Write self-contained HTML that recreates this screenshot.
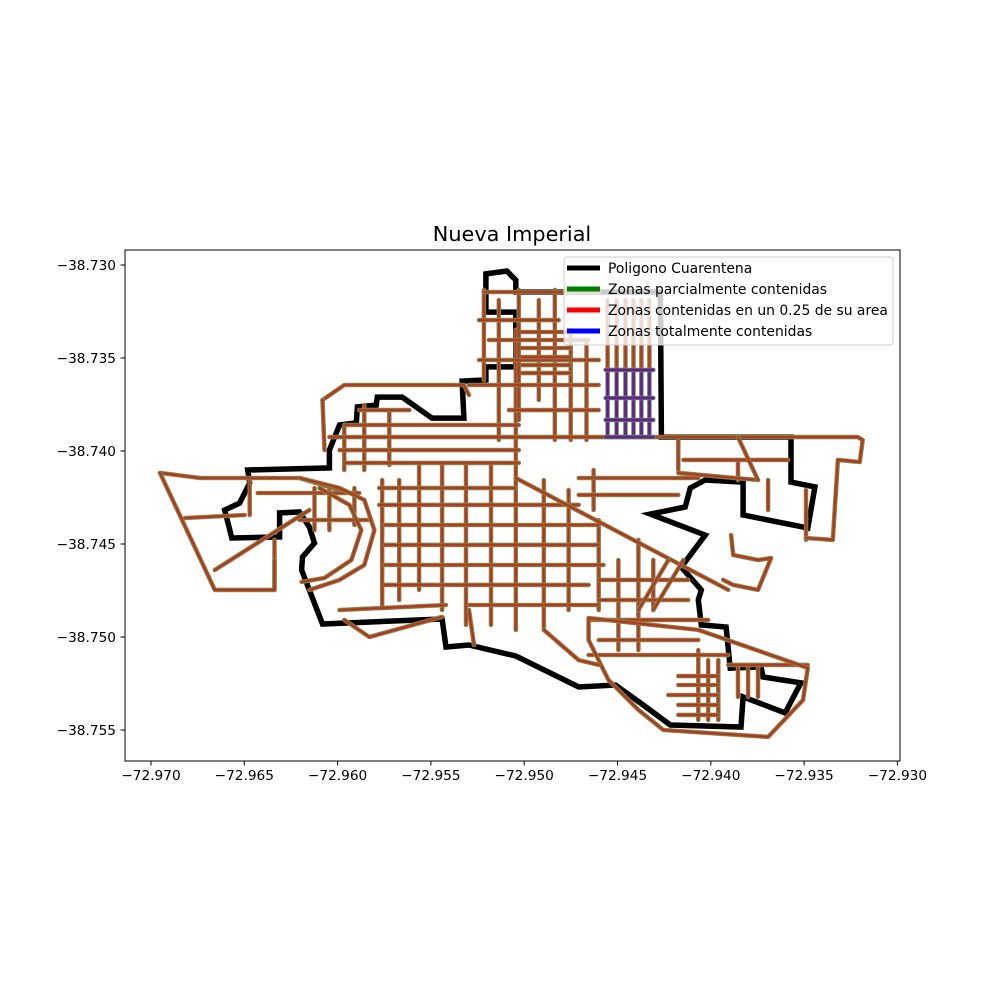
<!DOCTYPE html>
<html><head><meta charset="utf-8"><title>Nueva Imperial</title>
<style>
html,body{margin:0;padding:0;background:#fff;}
svg{display:block;font-family:"DejaVu Sans","Liberation Sans",sans-serif;}
</style></head>
<body>
<svg id="chart" width="1000" height="1000" viewBox="0 0 1000 1000">
  <rect x="0" y="0" width="1000" height="1000" fill="#fff"/>
  <text x="512" y="241" font-size="20.8" text-anchor="middle" fill="#000">Nueva Imperial</text>
  <defs><clipPath id="plotclip"><rect x="125" y="250" width="775" height="511"/></clipPath></defs>
  <g id="plot" clip-path="url(#plotclip)"></g>
  <rect x="125" y="250" width="775" height="511" fill="none" stroke="#000" stroke-width="1"/>
  <g id="xaxis"></g>
  <g id="yaxis"></g>
  <g id="legend">
    <rect x="564" y="257" width="329" height="88" rx="3" fill="#fff" fill-opacity="0.8" stroke="#ccc" stroke-width="1"/>
    <line x1="567" y1="268" x2="600" y2="268" stroke="#000" stroke-width="5"/>
    <text x="608" y="273" font-size="13.9">Poligono Cuarentena</text>
    <line x1="567" y1="289" x2="600" y2="289" stroke="#008000" stroke-width="5"/>
    <text x="608" y="294" font-size="13.9">Zonas parcialmente contenidas</text>
    <line x1="567" y1="310" x2="600" y2="310" stroke="#ff0000" stroke-width="5"/>
    <text x="608" y="315" font-size="13.9">Zonas contenidas en un 0.25 de su area</text>
    <line x1="567" y1="331" x2="600" y2="331" stroke="#0000ff" stroke-width="5"/>
    <text x="608" y="336" font-size="13.9">Zonas totalmente contenidas</text>
  </g>
</svg>
<script>
// ---- axis ticks ----
const xTicks = [-72.970,-72.965,-72.960,-72.955,-72.950,-72.945,-72.940,-72.935,-72.930];
const xTickLabels = ["−72.970","−72.965","−72.960","−72.955","−72.950","−72.945","−72.940","−72.935","−72.930"];
const yTicks = [-38.730,-38.735,-38.740,-38.745,-38.750,-38.755];
const yTickLabels = ["−38.730","−38.735","−38.740","−38.745","−38.750","−38.755"];

// ---- quarantine polygon [lon, lat] ----
const polygonLon = [-72.95205,-72.95093,-72.95045,-72.95045,-72.94270,-72.94265,-72.93570,-72.93570,-72.93442,-72.93480,-72.93827,-72.93827,-72.94030,-72.94110,-72.94137,-72.94324,-72.94030,-72.94158,-72.94051,-72.94067,-72.94051,-72.93918,-72.93896,-72.93731,-72.93720,-72.93517,-72.93602,-72.93827,-72.93838,-72.94217,-72.94377,-72.94511,-72.94708,-72.95045,-72.95296,-72.95419,-72.95440,-72.96081,-72.96193,-72.96188,-72.96124,-72.96151,-72.96204,-72.96311,-72.96311,-72.96567,-72.96605,-72.96525,-72.96471,-72.96482,-72.96044,-72.96044,-72.95990,-72.95900,-72.95894,-72.95793,-72.95787,-72.95654,-72.95494,-72.95323,-72.95333,-72.95205,-72.95205,-72.95045,-72.95045,-72.95205];
const polygonLat = [-38.73048,-38.73032,-38.73081,-38.73145,-38.73145,-38.73925,-38.73925,-38.74167,-38.74193,-38.74414,-38.74344,-38.74167,-38.74156,-38.74199,-38.74301,-38.74339,-38.74452,-38.74624,-38.74747,-38.74801,-38.74935,-38.74946,-38.75167,-38.75161,-38.75215,-38.75247,-38.75408,-38.75322,-38.75484,-38.75473,-38.75355,-38.75258,-38.75269,-38.75102,-38.75043,-38.75054,-38.74903,-38.74930,-38.74640,-38.74570,-38.74495,-38.74409,-38.74328,-38.74333,-38.74462,-38.74468,-38.74317,-38.74280,-38.74172,-38.74102,-38.74091,-38.73995,-38.73860,-38.73849,-38.73763,-38.73753,-38.73710,-38.73710,-38.73823,-38.73823,-38.73624,-38.73618,-38.73548,-38.73548,-38.73253,-38.73253];

// ---- streets: vertical [lon, lat1, lat2] ----
const vStreets = [
 [-72.95761,-38.74156,-38.74828],[-72.95670,-38.74156,-38.74801],[-72.95563,-38.74075,-38.74747],
 [-72.95440,-38.74075,-38.74855],[-72.95312,-38.74075,-38.74935],[-72.95178,-38.74075,-38.74935],
 [-72.95045,-38.73349,-38.74962],[-72.94895,-38.74156,-38.74962],[-72.94762,-38.74210,-38.74855],
 [-72.94601,-38.74371,-38.74855],[-72.95857,-38.73753,-38.74102],[-72.95723,-38.73780,-38.74075],
 [-72.95964,-38.73860,-38.74102],[-72.95216,-38.73134,-38.73618],[-72.95136,-38.73188,-38.73941],
 [-72.95029,-38.73134,-38.73833],[-72.94922,-38.73188,-38.73726],[-72.94836,-38.73134,-38.73941],
 [-72.94751,-38.73349,-38.73941],[-72.94666,-38.73403,-38.73941],[-72.94495,-38.74586,-38.75070],
 [-72.94388,-38.74478,-38.75070],[-72.94308,-38.74586,-38.74855],[-72.94628,-38.74102,-38.74317],
 [-72.94174,-38.73941,-38.74102],[-72.93854,-38.74048,-38.74156],[-72.93693,-38.74156,-38.74317],
 [-72.94067,-38.75070,-38.75446],[-72.94014,-38.75124,-38.75446],[-72.93960,-38.75124,-38.75446],
 [-72.96124,-38.74199,-38.74425],[-72.96044,-38.74199,-38.74425],[-72.95910,-38.74199,-38.74398],
 [-72.96338,-38.74478,-38.74747],[-72.93490,-38.74210,-38.74478],[-72.96471,-38.74156,-38.74344],
 [-72.94553,-38.73188,-38.73564],[-72.94505,-38.73188,-38.73564],[-72.94457,-38.73188,-38.73564],
 [-72.94414,-38.73188,-38.73564],[-72.94372,-38.73188,-38.73564],[-72.94329,-38.73188,-38.73564],
 [-72.93854,-38.75150,-38.75322],[-72.93800,-38.75150,-38.75322],[-72.93747,-38.75150,-38.75322]
];
// ---- streets: horizontal [lat, lon1, lon2] ----
const hStreets = [
 [-38.74199,-72.95777,-72.95045],[-38.74290,-72.95777,-72.94708],[-38.74398,-72.95750,-72.94601],
 [-38.74505,-72.95750,-72.94601],[-38.74613,-72.95750,-72.94575],[-38.74720,-72.95750,-72.94655],
 [-38.74828,-72.95296,-72.94601],[-38.73860,-72.95964,-72.95029],[-38.73925,-72.96044,-72.94281],
 [-38.73995,-72.95990,-72.95029],[-38.74064,-72.95964,-72.95029],[-38.73780,-72.95884,-72.95616],
 [-38.73145,-72.95216,-72.94601],[-38.73296,-72.95242,-72.94815],[-38.73403,-72.95189,-72.94655],
 [-38.73511,-72.95242,-72.94601],[-38.73645,-72.95296,-72.94601],[-38.73780,-72.95082,-72.94601],
 [-38.74048,-72.94147,-72.93586],[-38.74145,-72.94708,-72.94067],[-38.74236,-72.94708,-72.94174],
 [-38.74693,-72.94601,-72.94121],[-38.74801,-72.94601,-72.94121],[-38.74908,-72.94655,-72.94014],
 [-38.75016,-72.94601,-72.94067],[-38.75097,-72.94655,-72.93907],[-38.75150,-72.93907,-72.93480],
 [-38.75210,-72.94174,-72.93960],[-38.75258,-72.94174,-72.93960],[-38.75312,-72.94228,-72.93960],
 [-38.75365,-72.94174,-72.93960],[-38.75419,-72.94174,-72.93960],
 [-38.74226,-72.96428,-72.95884],[-38.74371,-72.96204,-72.95830],
 [-38.73360,-72.95013,-72.94751],[-38.73446,-72.95013,-72.94751],[-38.73495,-72.95013,-72.94751],
 [-38.73538,-72.95013,-72.94751],[-38.73581,-72.95013,-72.94751]
];
// ---- streets: polylines (lon array, lat array) ----
const pathLons = [
 [-72.95045,-72.93907],
 [-72.96952,-72.96738,-72.96525,-72.96204,-72.95990],
 [-72.96952,-72.96658,-72.96338,-72.96338],
 [-72.96818,-72.96498],
 [-72.96658,-72.96151],
 [-72.96204,-72.95990,-72.95857,-72.95803,-72.95857,-72.95990,-72.96151],
 [-72.96097,-72.95937,-72.95873,-72.95926,-72.96070,-72.96193],
 [-72.96081,-72.95964,-72.95323,-72.95296],
 [-72.96081,-72.96070],
 [-72.95990,-72.95419],
 [-72.95964,-72.95830,-72.95440],
 [-72.94655,-72.94067,-72.93480,-72.93506,-72.93693,-72.94254,-72.94388,-72.94548,-72.94655,-72.94655],
 [-72.94265,-72.93213,-72.93186,-72.93202,-72.93319,-72.93346,-72.93490],
 [-72.93891,-72.93880,-72.93747,-72.93677,-72.93747,-72.93880,-72.93934],
 [-72.94174,-72.93747],
 [-72.94895,-72.94708,-72.94601],
 [-72.95296,-72.95269],
 [-72.93854,-72.93747],
 [-72.94388,-72.94227],
 [-72.94308,-72.94147]
];
const pathLats = [
 [-38.74145,-38.74747],
 [-38.74118,-38.74145,-38.74145,-38.74145,-38.74210],
 [-38.74118,-38.74747,-38.74747,-38.74586],
 [-38.74360,-38.74344],
 [-38.74640,-38.74317],
 [-38.74145,-38.74199,-38.74263,-38.74425,-38.74613,-38.74693,-38.74747],
 [-38.74199,-38.74290,-38.74425,-38.74586,-38.74683,-38.74704],
 [-38.73726,-38.73645,-38.73645,-38.73699],
 [-38.73726,-38.73995],
 [-38.74855,-38.74828],
 [-38.74908,-38.75000,-38.74892],
 [-38.74898,-38.74962,-38.75166,-38.75339,-38.75537,-38.75500,-38.75392,-38.75231,-38.75016,-38.74898],
 [-38.73925,-38.73925,-38.73941,-38.74059,-38.74048,-38.74478,-38.74468],
 [-38.74452,-38.74559,-38.74586,-38.74575,-38.74747,-38.74720,-38.74693],
 [-38.74118,-38.74156],
 [-38.74962,-38.75124,-38.75150],
 [-38.74855,-38.75043],
 [-38.73925,-38.74156],
 [-38.74855,-38.74586],
 [-38.74855,-38.74586]
];
// ---- fully contained (purple) streets ----
const purpleVLon = [-72.94553,-72.94505,-72.94457,-72.94414,-72.94372,-72.94329];
const purpleVLat = [-38.73564,-38.73925];
const purpleHLat = [-38.73564,-38.73715,-38.73833,-38.73925];
const purpleHLon = [-72.94564,-72.94308];

// ---- axis functions ----
const X0 = 151, XSTEP = 93.3, Y0 = 265, YSTEP = 93;
function xS(lon){ return X0 + (lon + 72.970) / 0.005 * XSTEP; }
function yS(lat){ return Y0 + (-38.730 - lat) / 0.005 * YSTEP; }

const NS = "http://www.w3.org/2000/svg";
const plot = document.getElementById("plot");
const xaxis = document.getElementById("xaxis");
const yaxis = document.getElementById("yaxis");

function ptsStr(lons, lats){
  let s = [];
  for (let i = 0; i < lons.length; i++) s.push(xS(lons[i]).toFixed(1) + "," + yS(lats[i]).toFixed(1));
  return s.join(" ");
}
function drawStreet(lons, lats, kind, name){
  const g = document.createElementNS(NS, "g");
  
  
  const layers = kind === "purple"
    ? [["#6aa060",4.6,0.9],["#6b3a86",3.4,1],["#5a1f8a",1.6,1]]
    : [["#6aa060",4.6,0.9],["#a0603a",3.6,1],["#b53010",1.6,0.9]];
  for (const L of layers){
    const p = document.createElementNS(NS, "polyline");
    p.setAttribute("points", ptsStr(lons, lats));
    p.setAttribute("fill", "none");
    p.setAttribute("stroke", L[0]);
    p.setAttribute("stroke-width", L[1]);
    p.setAttribute("stroke-opacity", L[2]);
    p.setAttribute("stroke-linejoin", "round");
    p.setAttribute("stroke-linecap", "round");
    
    
    g.appendChild(p);
  }
  plot.appendChild(g);
}

// polygon
const poly = document.createElementNS(NS, "polygon");
poly.setAttribute("points", ptsStr(polygonLon, polygonLat));
poly.setAttribute("fill", "none");
poly.setAttribute("stroke", "#000");
poly.setAttribute("stroke-width", "5.5");
poly.setAttribute("stroke-linejoin", "miter");


plot.appendChild(poly);

vStreets.forEach((v, i) => drawStreet([v[0], v[0]], [v[1], v[2]], "brown", "street-v-" + i));
hStreets.forEach((h, i) => drawStreet([h[1], h[2]], [h[0], h[0]], "brown", "street-h-" + i));
pathLons.forEach((lons, i) => drawStreet(lons, pathLats[i], "brown", "street-path-" + i));
purpleVLon.forEach((lon, i) => drawStreet([lon, lon], purpleVLat, "purple", "contained-street-v-" + i));
purpleHLat.forEach((lat, i) => drawStreet(purpleHLon, [lat, lat], "purple", "contained-street-h-" + i));

// x axis
xTicks.forEach((t, i) => {
  const x = xS(t);
  const l = document.createElementNS(NS, "line");
  l.setAttribute("x1", x); l.setAttribute("x2", x);
  l.setAttribute("y1", 761); l.setAttribute("y2", 765.5);
  l.setAttribute("stroke", "#000");
  
  
  xaxis.appendChild(l);
  const tx = document.createElementNS(NS, "text");
  tx.setAttribute("x", x); tx.setAttribute("y", 780);
  tx.setAttribute("font-size", "13.7");
  tx.setAttribute("text-anchor", "middle");
  tx.textContent = xTickLabels[i];
  
  
  xaxis.appendChild(tx);
});
// y axis
yTicks.forEach((t, i) => {
  const y = yS(t);
  const l = document.createElementNS(NS, "line");
  l.setAttribute("x1", 120.5); l.setAttribute("x2", 125);
  l.setAttribute("y1", y); l.setAttribute("y2", y);
  l.setAttribute("stroke", "#000");
  
  
  yaxis.appendChild(l);
  const tx = document.createElementNS(NS, "text");
  tx.setAttribute("x", 116); tx.setAttribute("y", y + 5);
  tx.setAttribute("font-size", "13.7");
  tx.setAttribute("text-anchor", "end");
  tx.textContent = yTickLabels[i];
  
  
  yaxis.appendChild(tx);
});
</script>
</body></html>
